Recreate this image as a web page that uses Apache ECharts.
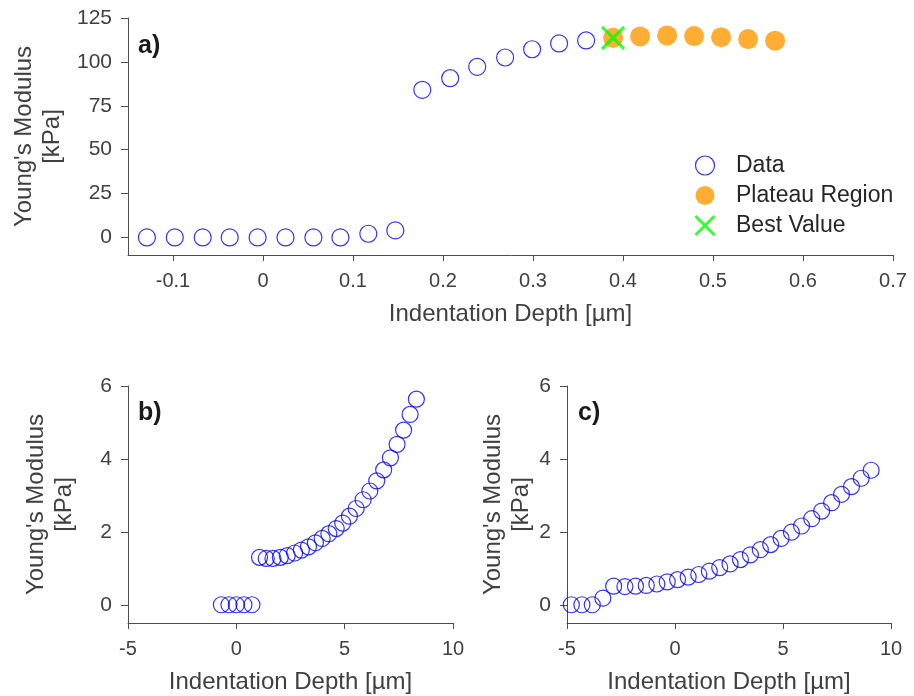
<!DOCTYPE html>
<html>
<head>
<meta charset="utf-8">
<title>Young's Modulus vs Indentation Depth</title>
<script src="https://cdn.jsdelivr.net/npm/echarts@6/dist/echarts.min.js"></script>
<style>
    html, body { margin: 0; padding: 0; background: #fff; }
    #chart-container { width: 914px; height: 696px; }
</style>
</head>
<body>
<div id="chart-container"></div>
<script>
// panel a) - depth in µm, modulus in kPa
var aDepth = [-0.129, -0.098, -0.067, -0.037, -0.006, 0.025, 0.056, 0.086, 0.117, 0.147,
    0.177, 0.208, 0.238, 0.269, 0.299, 0.329, 0.359];
var aModulus = [0, 0, 0, 0, 0, 0, 0, 0, 2.1, 4.0,
    84.1, 90.7, 97.2, 102.5, 107.2, 110.5, 112.2];
var plateauDepth = [0.389, 0.419, 0.449, 0.479, 0.509, 0.539, 0.569];
var plateauModulus = [113.7, 114.5, 115.1, 114.7, 114.1, 113.0, 112.1];
var bestDepth = [0.389];
var bestModulus = [113.7];

// panel b)
var bDepth = [-0.69, -0.34, 0, 0.35, 0.72, 1.07, 1.38, 1.69, 2.03, 2.35, 2.69, 3.00, 3.33, 3.65, 3.96,
    4.27, 4.61, 4.91, 5.22, 5.53, 5.85, 6.16, 6.48, 6.80, 7.11, 7.42, 7.72, 8.02, 8.31];
var bModulus = [0, 0, 0, 0, 0, 1.30, 1.27, 1.27, 1.30, 1.35, 1.42, 1.50, 1.59, 1.70, 1.82,
    1.95, 2.09, 2.24, 2.43, 2.64, 2.88, 3.12, 3.40, 3.70, 4.03, 4.40, 4.79, 5.22, 5.64];

// panel c)
var cDepth = [-4.80, -4.31, -3.83, -3.34, -2.84, -2.32, -1.83, -1.33, -0.84, -0.36, 0.12, 0.61, 1.10, 1.59, 2.07,
    2.55, 3.03, 3.49, 3.95, 4.43, 4.91, 5.39, 5.86, 6.33, 6.79, 7.25, 7.71, 8.17, 8.62, 9.08];
var cModulus = [0, 0, 0, 0.18, 0.51, 0.50, 0.51, 0.53, 0.57, 0.63, 0.69, 0.76, 0.83, 0.92, 1.02,
    1.12, 1.24, 1.37, 1.51, 1.65, 1.82, 1.99, 2.16, 2.36, 2.57, 2.80, 3.03, 3.24, 3.47, 3.69];

// tick labels
var aXTicks = [-0.1, 0, 0.1, 0.2, 0.3, 0.4, 0.5, 0.6, 0.7];
var aYTicks = [0, 25, 50, 75, 100, 125];
var bcYTicks = [0, 2, 4, 6];

var xName = 'Indentation Depth [µm]';
var yName = "Young's Modulus\n[kPa]";
var seriesNames = ['Data', 'Plateau Region', 'Best Value'];

(function () {
    var FONT = '"Liberation Sans", Arial, Helvetica, sans-serif';
    var AXIS_COLOR = '#4d4d4d';
    var TEXT_COLOR = '#404040';
    var BLUE = '#0000ff';
    var ORANGE = '#ff9900';
    var GREEN = '#00ff00';
    var CROSS = 'path://M0,0L10,10M10,0L0,10';

    var domChart = document.getElementById('chart-container');
    var ioChart = echarts.init(domChart, null, { renderer: 'canvas' });

    function zip(xs, ys) {
        var out = [];
        for (var i = 0; i < xs.length; i++) {
            out.push([xs[i], ys[i]]);
        }
        return out;
    }

    function makeXAxis(gridIndex, min, max, ticks, interval) {
        var axis = {
            type: 'value',
            gridIndex: gridIndex,
            min: min,
            max: max,
            name: xName,
            nameLocation: 'middle',
            nameGap: 47,
            nameTextStyle: { fontFamily: FONT, fontSize: 24, color: TEXT_COLOR },
            axisLine: { show: true, onZero: false, lineStyle: { color: AXIS_COLOR, width: 1 } },
            axisTick: { show: true, inside: false, length: 6, lineStyle: { color: AXIS_COLOR } },
            axisLabel: { fontFamily: FONT, fontSize: 20, color: TEXT_COLOR, margin: 16 },
            splitLine: { show: false }
        };
        if (ticks) {
            axis.axisTick.customValues = ticks;
            axis.axisLabel.customValues = ticks;
        } else {
            axis.interval = interval;
        }
        return axis;
    }

    function makeYAxis(gridIndex, min, max, ticks, nameGap) {
        return {
            type: 'value',
            gridIndex: gridIndex,
            min: min,
            max: max,
            name: yName,
            nameLocation: 'middle',
            nameRotate: 90,
            nameGap: nameGap,
            nameTextStyle: { fontFamily: FONT, fontSize: 24, lineHeight: 28, color: TEXT_COLOR },
            axisLine: { show: true, onZero: false, lineStyle: { color: AXIS_COLOR, width: 1 } },
            axisTick: { show: true, inside: false, length: 7, customValues: ticks, lineStyle: { color: AXIS_COLOR } },
            axisLabel: { fontFamily: FONT, fontSize: 21, color: TEXT_COLOR, margin: 16, customValues: ticks },
            splitLine: { show: false }
        };
    }

    function hollow(name, idx, data, size) {
        return {
            name: name,
            type: 'scatter',
            xAxisIndex: idx,
            yAxisIndex: idx,
            symbol: 'circle',
            symbolSize: size,
            data: data,
            z: 2,
            itemStyle: { color: 'rgba(0,0,0,0)', borderColor: BLUE, borderWidth: 1.2 },
            emphasis: { disabled: true }
        };
    }

    var chartOption = {
        backgroundColor: '#ffffff',
        animation: false,
        grid: [
            { left: 128, right: 21, top: 18, bottom: 441, outerBoundsMode: 'none' },
            { left: 128, right: 461, top: 386, bottom: 73, outerBoundsMode: 'none' },
            { left: 567, right: 23, top: 386, bottom: 73, outerBoundsMode: 'none' }
        ],
        legend: {
            orient: 'vertical',
            left: 689,
            top: 149,
            itemWidth: 52,
            itemHeight: 19,
            itemGap: 7,
            selectedMode: false,
            textStyle: { fontFamily: FONT, fontSize: 23, color: '#262626', lineHeight: 20 },
            data: [
                { name: seriesNames[0], icon: 'circle', itemStyle: { color: 'rgba(0,0,0,0)', borderColor: BLUE, borderWidth: 1.2 } },
                { name: seriesNames[1], icon: 'circle', itemStyle: { color: ORANGE, borderWidth: 0 } },
                { name: seriesNames[2], icon: CROSS, itemStyle: { color: GREEN, borderColor: GREEN, borderWidth: 3 } }
            ]
        },
        xAxis: [
            makeXAxis(0, -0.15, 0.7, aXTicks),
            makeXAxis(1, -5, 10, null, 5),
            makeXAxis(2, -5, 10, null, 5)
        ],
        yAxis: [
            makeYAxis(0, -10, 125, aYTicks, 58),
            makeYAxis(1, -0.5, 6, bcYTicks, 50),
            makeYAxis(2, -0.5, 6, bcYTicks, 29)
        ],
        graphic: [
            { type: 'text', left: 138, top: 34, style: { text: 'a)', font: 'bold 25px ' + FONT, fill: '#1a1a1a' } },
            { type: 'text', left: 138, top: 401, style: { text: 'b)', font: 'bold 25px ' + FONT, fill: '#1a1a1a' } },
            { type: 'text', left: 578, top: 401, style: { text: 'c)', font: 'bold 25px ' + FONT, fill: '#1a1a1a' } }
        ],
        series: [
            hollow(seriesNames[0], 0, zip(aDepth, aModulus), 17),
            {
                name: seriesNames[1],
                type: 'scatter',
                xAxisIndex: 0,
                yAxisIndex: 0,
                symbol: 'circle',
                symbolSize: 20,
                z: 3,
                data: zip(plateauDepth, plateauModulus),
                itemStyle: { color: ORANGE },
                emphasis: { disabled: true }
            },
            {
                name: seriesNames[2],
                type: 'scatter',
                xAxisIndex: 0,
                yAxisIndex: 0,
                symbol: CROSS,
                symbolSize: 22,
                z: 4,
                data: zip(bestDepth, bestModulus),
                itemStyle: { color: GREEN, borderColor: GREEN, borderWidth: 3 },
                emphasis: { disabled: true }
            },
            hollow('b', 1, zip(bDepth, bModulus), 16),
            hollow('c', 2, zip(cDepth, cModulus), 16)
        ]
    };

    ioChart.setOption(chartOption);
})();
</script>
</body>
</html>
